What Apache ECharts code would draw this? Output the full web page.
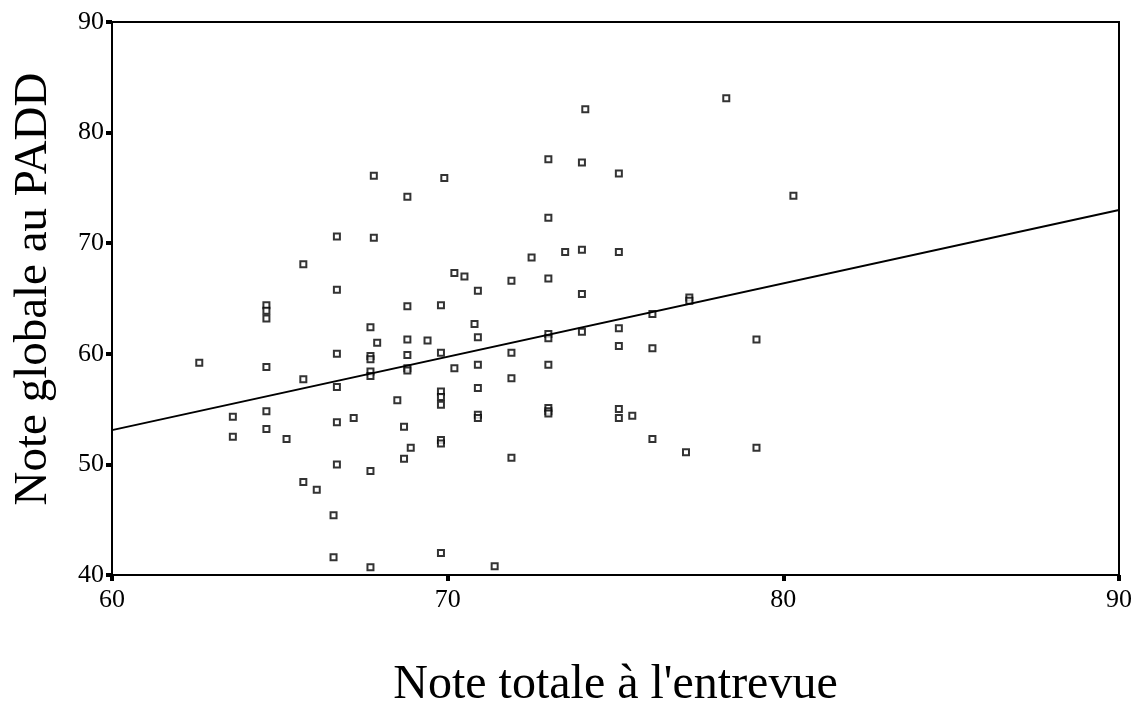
<!DOCTYPE html>
<html>
<head>
<meta charset="utf-8">
<script src="https://cdn.jsdelivr.net/npm/echarts@6/dist/echarts.min.js"></script>
<style>
  html, body { margin: 0; padding: 0; background: #fff; }
  #main { width: 1136px; height: 702px; }
</style>
</head>
<body>
<div id="main"></div>
<script>
// Note totale a l'entrevue (x) vs note globale au PADD (y)
var xVals = [67.8, 69.9, 68.8, 66.7, 67.8, 65.7, 66.7, 64.6, 64.6, 64.6,
             68.8, 69.8, 67.7, 67.9, 68.8, 69.4, 66.7, 67.7, 67.7, 68.8,
             69.8, 62.6, 64.6, 67.7, 67.7, 68.8, 68.8, 65.7, 66.7, 68.5,
             69.8, 69.8, 69.8, 63.6, 64.6, 66.7, 67.2, 68.7, 63.6, 64.6,
             65.2, 69.8, 69.8, 68.9, 68.7, 66.7, 67.7, 65.7, 66.1, 66.6,
             66.6, 67.7, 69.8, 78.3, 74.1, 73.0, 74.0, 75.1, 73.0, 72.5,
             73.5, 74.0, 75.1, 70.2, 70.5, 71.9, 73.0, 70.9, 74.0, 77.2,
             77.2, 70.8, 76.1, 70.9, 73.0, 73.0, 74.0, 75.1, 70.2, 71.9,
             75.1, 76.1, 79.2, 70.9, 73.0, 71.9, 70.9, 70.9, 70.9, 73.0,
             73.0, 73.0, 75.1, 75.1, 75.5, 76.1, 77.1, 79.2, 71.9, 71.4,
             80.3];
var yVals = [76.1, 75.9, 74.2, 70.6, 70.5, 68.1, 65.8, 64.4, 63.9, 63.2,
             64.3, 64.4, 62.4, 61.0, 61.3, 61.2, 60.0, 59.8, 59.5, 59.9,
             60.1, 59.2, 58.8, 58.4, 58.0, 58.7, 58.5, 57.7, 57.0, 55.8,
             56.6, 56.1, 55.4, 54.3, 54.8, 53.8, 54.2, 53.4, 52.5, 53.2,
             52.3, 52.2, 51.9, 51.5, 50.5, 50.0, 49.4, 48.4, 47.7, 45.4,
             41.6, 40.7, 42.0, 83.1, 82.1, 77.6, 77.3, 76.3, 72.3, 68.7,
             69.2, 69.4, 69.2, 67.3, 67.0, 66.6, 66.8, 65.7, 65.4, 65.1,
             64.8, 62.7, 63.6, 61.5, 61.8, 61.4, 62.0, 62.3, 58.7, 60.1,
             60.7, 60.5, 61.3, 59.0, 59.0, 57.8, 56.9, 54.5, 54.2, 55.1,
             54.8, 54.6, 55.0, 54.2, 54.4, 52.3, 51.1, 51.5, 50.6, 40.8,
             74.3];

// fitted line end points
var fitX = [60, 90];
var fitY = [53.1, 73.0];

var xTicks = [60, 70, 80, 90];
var yTicks = [40, 50, 60, 70, 80, 90];

var points = [];
for (var i = 0; i < xVals.length; i++) {
    points.push([xVals[i], yVals[i]]);
}
var fit = [];
for (var j = 0; j < fitX.length; j++) {
    fit.push([fitX[j], fitY[j]]);
}

var serif = '"Liberation Serif", "DejaVu Serif", serif';
var myChart = echarts.init(document.getElementById('main'));
var option = {
    backgroundColor: '#fff',
    animation: false,
    grid: {
        left: 112,
        right: 17,
        top: 22,
        bottom: 127,
        containLabel: false,
        outerBoundsMode: 'none',
        show: true,
        borderColor: '#000',
        borderWidth: 2
    },
    xAxis: {
        type: 'value',
        min: xTicks[0],
        max: xTicks[xTicks.length - 1],
        interval: 10,
        name: "Note totale à l'entrevue",
        nameLocation: 'middle',
        nameGap: 86,
        nameTextStyle: {
            color: '#000',
            fontFamily: serif,
            fontSize: 48
        },
        splitLine: { show: false },
        axisLine: {
            lineStyle: { color: '#000', width: 2 }
        },
        axisTick: {
            show: true,
            length: 6,
            lineStyle: { color: '#000', width: 4 }
        },
        axisLabel: {
            color: '#000',
            fontFamily: serif,
            fontSize: 26,
            margin: 12
        }
    },
    yAxis: {
        type: 'value',
        min: yTicks[0],
        max: yTicks[yTicks.length - 1],
        interval: 10,
        name: 'Note globale au PADD',
        nameLocation: 'middle',
        nameGap: 55,
        nameTextStyle: {
            color: '#000',
            fontFamily: serif,
            fontSize: 47,
            padding: [0, 0, 0, 19]
        },
        splitLine: { show: false },
        axisLine: {
            lineStyle: { color: '#000', width: 2 }
        },
        axisTick: {
            show: true,
            length: 6,
            lineStyle: { color: '#000', width: 4 }
        },
        axisLabel: {
            color: '#000',
            fontFamily: serif,
            fontSize: 26,
            margin: 8
        }
    },
    series: [
        {
            type: 'scatter',
            symbol: 'rect',
            symbolSize: 6,
            itemStyle: {
                color: '#fff',
                borderColor: '#000',
                borderWidth: 2
            },
            data: points
        },
        {
            type: 'line',
            data: fit,
            symbol: 'none',
            lineStyle: { color: '#000', width: 2 }
        }
    ]
};
myChart.setOption(option);
</script>
</body>
</html>
